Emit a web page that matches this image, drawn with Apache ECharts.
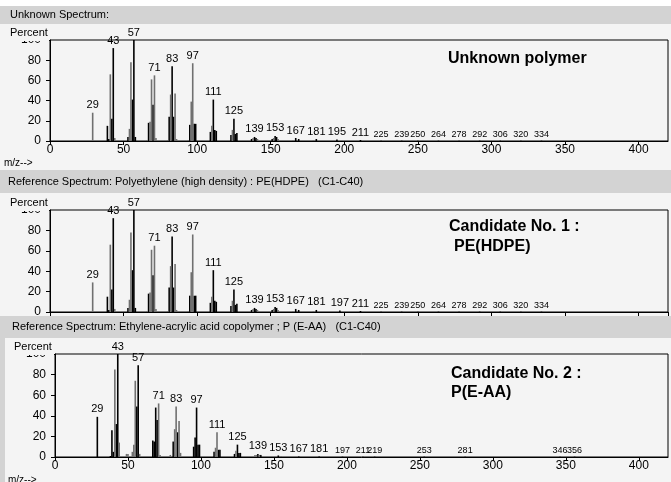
<!DOCTYPE html>
<html>
<head>
<meta charset="utf-8">
<script src="https://cdn.jsdelivr.net/npm/echarts@6/dist/echarts.min.js"></script>
<style>
html, body { margin: 0; padding: 0; background: #fff; }
#main { width: 671px; height: 482px; }
</style>
</head>
<body>
<div id="main"></div>
<script>
// m/z axis and percent axis
var xMax = 420, xStep = 50;
var yMax = 100, yStep = 20;

// unknown spectrum: [m/z, percent]
var unkBlack = [[39,15],[40,2],[42,22],[43,92],[53,4],[56,41],[57,100],[58,4],[67,18],[70,36],
  [81,24],[83,74],[84,24],[95,16],[98,17],[99,17],[109,9],[111,41],[112,11],[113,10],
  [123,6],[125,22],[126,7],[127,8],[137,2],[139,4],[140,3],[151,2],[153,5],[154,4],
  [167,3],[169,2],[181,2],[195,1.5],[211,1]];
var unkGray = [[29,28],[41,66],[44,3],[54,12],[55,78],[66,1],[68,19],[69,61],[71,65],[72,3],
  [80,1],[82,46],[85,47],[86,2],[94,1],[96,39],[97,77],[110,15],[124,11],[138,3],[141,2],
  [152,3],[155,2],[165,1],[179,1]];
var unkTiny = [[225,0.3],[239,0.3],[250,0.3],[264,0.3],[278,0.3],[292,0.3],[306,0.3],[320,0.3],[334,0.3]];
var unkLabels = [29,43,57,71,83,97,111,125,139,153,167,181,195,211,225,239,250,264,278,292,306,320,334];

// reference: PE(HDPE)
var peBlack = [[39,15],[40,2],[42,22],[43,92],[53,4],[56,41],[57,100],[58,4],[67,18],[70,36],
  [81,24],[83,74],[84,24],[95,16],[98,16],[99,16],[109,9],[111,41],[112,11],[113,10],
  [123,6],[125,22],[126,7],[127,8],[137,2],[139,4],[140,3],[151,2],[153,5],[154,4],
  [167,3],[169,2],[181,2],[197,1.5],[211,1]];
var peGray = [[29,29],[41,66],[44,3],[54,12],[55,78],[66,1],[68,19],[69,61],[71,65],[72,3],
  [80,1],[82,45],[85,47],[86,2],[94,1],[96,39],[97,76],[110,15],[124,11],[138,3],[141,2],
  [152,3],[155,2],[165,1],[179,1]];
var peTiny = [[225,0.3],[239,0.3],[250,0.3],[264,0.3],[278,0.3],[292,0.3],[306,0.3],[320,0.3],[334,0.3]];
var peLabels = [29,43,57,71,83,97,111,125,139,153,167,181,197,211,225,239,250,264,278,292,306,320,334];

// reference: P(E-AA)
var eaaBlack = [[29,39],[38,1],[39,26],[40,5],[42,32],[43,100],[56,49],[57,89],[67,16],[68,15],
  [69,48],[70,36],[81,15],[84,24],[95,10],[96,19],[97,48],[98,12],[99,12],[109,5],[112,7],
  [113,7],[123,3],[125,12],[126,4],[127,4],[139,3],[141,2],[153,1.5],[167,0.5],[181,0.5]];
var eaaGray = [[41,85],[44,14],[49,3],[50,3],[53,5],[54,12],[55,74],[58,3],[71,52],[72,2],
  [79,2],[82,27],[83,49],[85,35],[86,4],[110,9],[111,24],[124,6],[137,2],[138,2],[140,2],[155,1]];
var eaaTiny = [[197,0.3],[211,0.3],[219,0.3],[253,0.3],[281,0.3],[346,0.3],[356,0.3]];
var eaaLabels = [29,43,57,71,83,97,111,125,139,153,167,181,197,211,219,253,281,346,356];

var BG = '#f4f4f4', BAND = '#d3d3d3', FONT = 'Arial, "Liberation Sans", sans-serif';

function peaks(black, gray, tiny, labels) {
  var list = [];
  black.forEach(function (p) { list.push({ p: p, c: '#000' }); });
  gray.forEach(function (p) { list.push({ p: p, c: '#707070' }); });
  tiny.forEach(function (p) { list.push({ p: p, c: '#000' }); });
  return list.map(function (d) {
    var item = { value: d.p, itemStyle: { color: d.c } };
    if (labels.indexOf(d.p[0]) >= 0) {
      item.label = { show: true, fontSize: d.p[1] < 0.45 ? 9 : 11 };
    }
    return item;
  });
}

var grids = [
  { left: 50, top: 40, width: 618, height: 101 },
  { left: 50, top: 210, width: 618, height: 102 },
  { left: 55, top: 354, width: 613, height: 103 }
];

var myChart = echarts.init(document.getElementById('main'));
var option = {
  animation: false,
  grid: grids.map(function (g) {
    return Object.assign({ show: true, borderColor: '#000', borderWidth: 1,
      backgroundColor: 'transparent', containLabel: false, outerBoundsMode: 'none' }, g);
  }),
  xAxis: [0, 1, 2].map(function (i) {
    return {
      type: 'value', gridIndex: i, min: 0, max: xMax, interval: xStep,
      axisLine: { lineStyle: { color: '#000', width: 1 } },
      axisTick: { length: 4, lineStyle: { color: '#000' } },
      axisLabel: { show: i !== 1, color: '#000', fontSize: 12, fontFamily: FONT, margin: 3,
        showMaxLabel: false },
      splitLine: { show: false }
    };
  }),
  yAxis: [0, 1, 2].map(function (i) {
    return {
      type: 'value', gridIndex: i, min: 0, max: yMax, interval: yStep,
      axisLine: { show: true, lineStyle: { color: '#000', width: 1 } },
      axisTick: { show: true, length: 4, lineStyle: { color: '#000' } },
      axisLabel: { color: '#000', fontSize: 12, fontFamily: FONT, margin: 9 },
      splitLine: { show: false }
    };
  }),
  series: [
    [unkBlack, unkGray, unkTiny, unkLabels],
    [peBlack, peGray, peTiny, peLabels],
    [eaaBlack, eaaGray, eaaTiny, eaaLabels]
  ].map(function (s, i) {
    return {
      type: 'bar', xAxisIndex: i, yAxisIndex: i, barWidth: 1.6,
      label: { position: 'top', distance: 2, color: '#000', fontFamily: FONT,
        formatter: function (p) { return p.value[0]; } },
      data: peaks(s[0], s[1], s[2], s[3])
    };
  }),
  graphic: [
    // panel backgrounds and header bands
    { type: 'rect', z: -10, shape: { x: 0, y: 24, width: 671, height: 146 }, style: { fill: BG } },
    { type: 'rect', z: -10, shape: { x: 0, y: 6, width: 671, height: 18 }, style: { fill: BAND } },
    { type: 'rect', z: -10, shape: { x: 0, y: 170, width: 671, height: 23 }, style: { fill: BAND } },
    { type: 'rect', z: -10, shape: { x: 0, y: 193, width: 671, height: 123 }, style: { fill: BG } },
    { type: 'rect', z: -10, shape: { x: 0, y: 316, width: 671, height: 166 }, style: { fill: BAND } },
    { type: 'rect', z: -10, shape: { x: 5, y: 338, width: 666, height: 144 }, style: { fill: BG } },
    // headers
    { type: 'text', z: 100, x: 10, y: 9, style: { text: 'Unknown Spectrum:', font: '11px ' + FONT, fill: '#000' } },
    { type: 'text', z: 100, x: 8, y: 176, style: { text: 'Reference Spectrum: Polyethylene (high density) : PE(HDPE)   (C1-C40)', font: '11px ' + FONT, fill: '#000' } },
    { type: 'text', z: 100, x: 12, y: 321, style: { text: 'Reference Spectrum: Ethylene-acrylic acid copolymer ; P (E-AA)   (C1-C40)', font: '11px ' + FONT, fill: '#000' } },
    // "Percent" covering the top tick label
    { type: 'rect', z: 90, shape: { x: 0, y: 26, width: 49, height: 15 }, style: { fill: BG } },
    { type: 'rect', z: 90, shape: { x: 0, y: 196, width: 49, height: 15 }, style: { fill: BG } },
    { type: 'rect', z: 90, shape: { x: 6, y: 340, width: 48, height: 15 }, style: { fill: BG } },
    { type: 'text', z: 100, x: 10, y: 27, style: { text: 'Percent', font: '11px ' + FONT, fill: '#000' } },
    { type: 'text', z: 100, x: 10, y: 197, style: { text: 'Percent', font: '11px ' + FONT, fill: '#000' } },
    { type: 'text', z: 100, x: 14, y: 341, style: { text: 'Percent', font: '11px ' + FONT, fill: '#000' } },
    { type: 'text', z: 100, x: 4, y: 158, style: { text: 'm/z-->', font: '10px ' + FONT, fill: '#000' } },
    { type: 'text', z: 100, x: 8, y: 475, style: { text: 'm/z-->', font: '10px ' + FONT, fill: '#000' } },
    // annotations
    { type: 'text', z: 100, x: 448, y: 51, style: { text: 'Unknown polymer', font: 'bold 16px ' + FONT, fill: '#000' } },
    { type: 'text', z: 100, x: 449, y: 219, style: { text: 'Candidate No. 1 :', font: 'bold 16px ' + FONT, fill: '#000' } },
    { type: 'text', z: 100, x: 454, y: 239, style: { text: 'PE(HDPE)', font: 'bold 16px ' + FONT, fill: '#000' } },
    { type: 'text', z: 100, x: 451, y: 366, style: { text: 'Candidate No. 2 :', font: 'bold 16px ' + FONT, fill: '#000' } },
    { type: 'text', z: 100, x: 451, y: 385, style: { text: 'P(E-AA)', font: 'bold 16px ' + FONT, fill: '#000' } }
  ]
};
myChart.setOption(option);
</script>
</body>
</html>
